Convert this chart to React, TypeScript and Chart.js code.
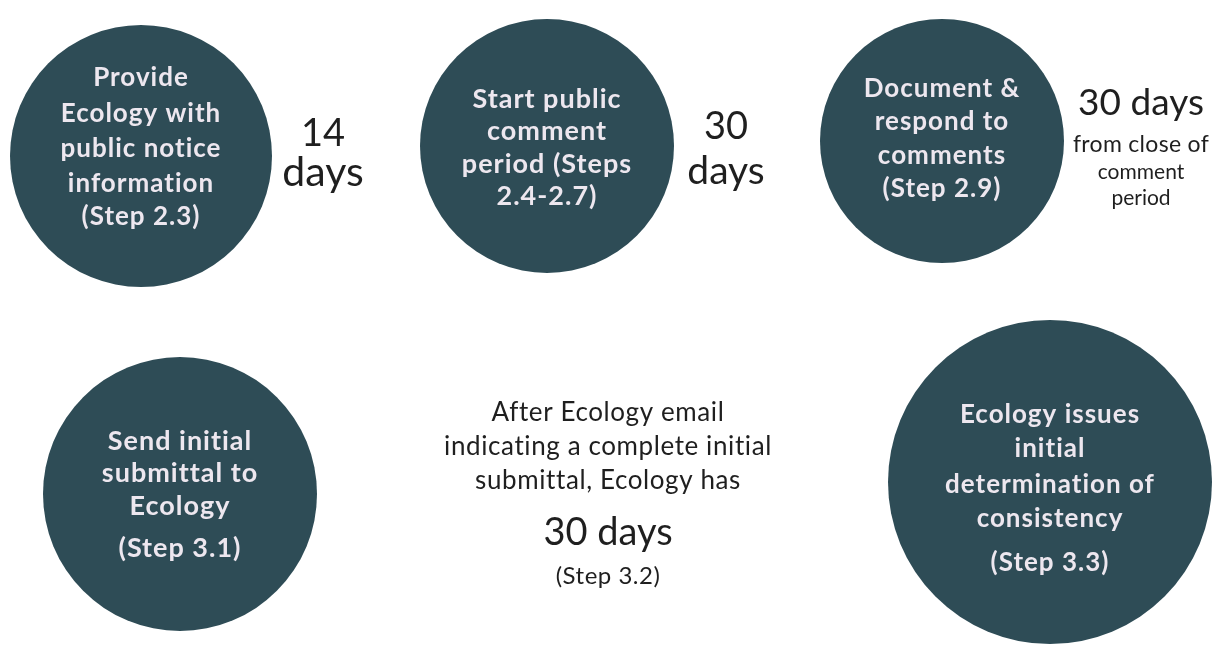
import React, { useEffect, useRef } from "react";
import { Chart, registerables } from "chart.js";

Chart.register(...registerables);

// ---- Data: process steps (circles) ----
const stepLabels: string[][] = [
  ["Provide", "Ecology with", "public notice", "information", "(Step 2.3)"],
  ["Start public", "comment", "period (Steps", "2.4-2.7)"],
  ["Document &", "respond to", "comments", "(Step 2.9)"],
  ["Send initial", "submittal to", "Ecology", "(Step 3.1)"],
  ["Ecology issues", "initial", "determination of", "consistency", "(Step 3.3)"],
];
const stepX: number[] = [141, 547, 942, 180, 1050];
const stepY: number[] = [156, 146, 141, 494, 482];
const stepSize: number[] = [131, 127, 122, 137, 162];
const stepLineY: number[][] = [
  [78, 114, 149, 184, 217],
  [99, 131, 164, 196],
  [89, 122, 156, 189],
  [441, 473, 506, 548],
  [415, 449, 485, 519, 563],
];

// ---- Data: durations / notes ----
const noteLabels: string[][] = [
  ["14", "days"],
  ["30", "days"],
  ["30 days", "from close of", "comment", "period"],
  ["After Ecology email", "indicating a complete initial", "submittal, Ecology has", "30 days", "(Step 3.2)"],
];
const noteX: number[] = [323, 726, 1141, 608];
const noteLineY: number[][] = [
  [134, 173],
  [127, 171],
  [103, 145, 172, 198],
  [413, 447, 481, 533, 576],
];

// ---- Styles ----
const circleColor = "#2e4c56";
const circleTextColor = "#ede7ef";
const noteColor = "#1f1f1f";
const noteFontSizes: number[][] = [
  [38, 41],
  [38, 39],
  [37, 23, 21, 21],
  [26, 26, 26, 38, 24],
];
const noteSpacing: number[][] = [
  [0, 0],
  [0, 0],
  [0, 0.3, 0, 0],
  [0.6, 0.6, 0.6, 0, 0.5],
];
const stepFontSizes: number[] = [26, 27, 26, 27, 26];

const textPlugin = {
  id: "diagramText",
  afterDatasetsDraw(chart: any) {
    const ctx = chart.ctx as any;
    const xs = chart.scales.x;
    const ys = chart.scales.y;
    ctx.save();
    ctx.textAlign = "center";
    ctx.textBaseline = "middle";
    const meta = chart.getDatasetMeta(0);
    stepLabels.forEach((lines, i) => {
      const el = meta.data[i];
      ctx.fillStyle = circleTextColor;
      ctx.font = `bold ${stepFontSizes[i]}px Lato, "Open Sans", sans-serif`;
      ctx.letterSpacing = "1px";
      lines.forEach((line, j) => {
        ctx.fillText(line, el.x, ys.getPixelForValue(stepLineY[i][j]));
      });
    });
    noteLabels.forEach((lines, i) => {
      ctx.fillStyle = noteColor;
      lines.forEach((line, j) => {
        ctx.font = `${noteFontSizes[i][j]}px Lato, "Open Sans", sans-serif`;
        ctx.letterSpacing = `${noteSpacing[i][j]}px`;
        ctx.fillText(line, xs.getPixelForValue(noteX[i]), ys.getPixelForValue(noteLineY[i][j]));
      });
    });
    ctx.restore();
  },
};

export default function App() {
  const canvasRef = useRef<HTMLCanvasElement | null>(null);

  useEffect(() => {
    document.body.style.margin = "0";
    document.body.style.background = "#ffffff";
    const canvas = canvasRef.current;
    if (!canvas) return;
    const chart = new Chart(canvas, {
      type: "bubble",
      data: {
        datasets: [
          {
            label: "Steps",
            data: stepX.map((x, i) => ({ x, y: stepY[i], r: stepSize[i] })),
            backgroundColor: circleColor,
            borderWidth: 0,
            hoverBorderWidth: 0,
            hoverRadius: 0,
            clip: false as any,
          },
        ],
      },
      options: {
        responsive: false,
        maintainAspectRatio: false,
        animation: false,
        events: [],
        layout: { padding: 0, autoPadding: false } as any,
        plugins: {
          legend: { display: false },
          tooltip: { enabled: false },
          title: { display: false },
        },
        scales: {
          x: { type: "linear", min: 0, max: 1212, display: false },
          y: { type: "linear", min: 0, max: 650, reverse: true, display: false },
        },
      },
      plugins: [textPlugin],
    });
    return () => chart.destroy();
  }, []);

  return (
    <div style={{ position: "fixed", left: 0, top: 0, width: 1212, height: 650, background: "#ffffff" }}>
      <canvas ref={canvasRef} width={1212} height={650} style={{ display: "block", width: 1212, height: 650 }} />
    </div>
  );
}
